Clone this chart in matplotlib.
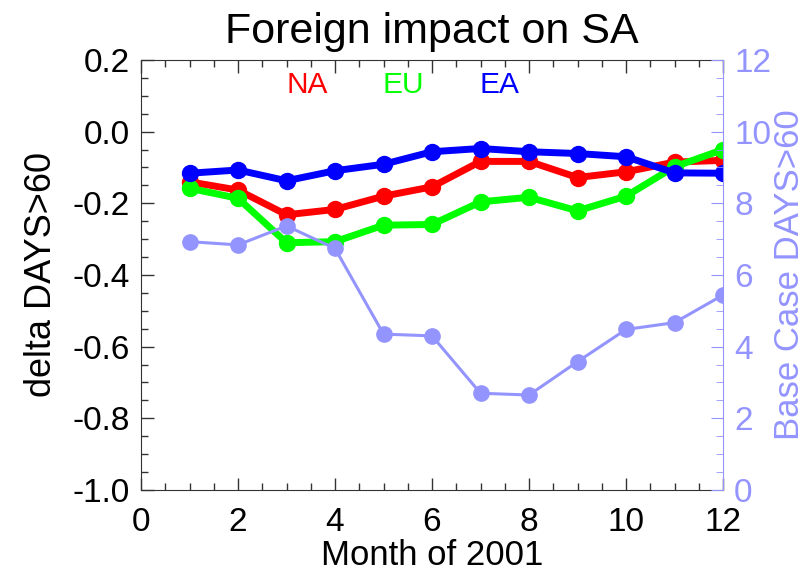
import matplotlib
matplotlib.use("Agg")
import matplotlib.pyplot as plt
from matplotlib.ticker import MultipleLocator, FormatStrFormatter

plt.rcParams['font.family'] = ['Liberation Sans', 'DejaVu Sans']

months = [1, 2, 3, 4, 5, 6, 7, 8, 9, 10, 11, 12]
na = [-0.140, -0.163, -0.232, -0.217, -0.180, -0.154, -0.083, -0.083, -0.128, -0.112, -0.085, -0.080]
eu = [-0.158, -0.186, -0.310, -0.307, -0.261, -0.259, -0.196, -0.183, -0.221, -0.180, -0.098, -0.050]
ea = [-0.116, -0.107, -0.137, -0.109, -0.091, -0.056, -0.047, -0.056, -0.061, -0.070, -0.115, -0.116]
base = [6.93, 6.84, 7.37, 6.74, 4.35, 4.30, 2.70, 2.65, 3.58, 4.48, 4.67, 5.44]

labels = ["NA", "EU", "EA"]
colors = ["#ff0000", "#00ff00", "#0000ff"]
base_color = "#9494ff"

fig = plt.figure(figsize=(8.11, 5.72), dpi=100)
ax = fig.add_axes([0.1739, 0.1434, 0.8915 - 0.1739, 0.8951 - 0.1434])

for vals, c in zip([na, eu, ea], colors):
    ax.plot(months, vals, color=c, lw=5, marker='o', ms=11.5, zorder=3)

ax.set_xlim(0, 12)
ax.set_ylim(-1.0, 0.2)
ax.xaxis.set_major_locator(MultipleLocator(2))
ax.xaxis.set_minor_locator(MultipleLocator(0.5))
ax.yaxis.set_major_locator(MultipleLocator(0.2))
ax.yaxis.set_minor_locator(MultipleLocator(0.05))
ax.yaxis.set_major_formatter(FormatStrFormatter('%.1f'))
ax.tick_params(axis='both', which='both', direction='in', top=True, right=False,
               labelsize=24, color='#333333')
ax.tick_params(which='major', length=9, width=1)
ax.tick_params(which='minor', length=5, width=1)
ax.tick_params(axis='x', pad=12)
ax.tick_params(axis='y', pad=8)
for s in ['left', 'bottom', 'top']:
    ax.spines[s].set_color('#333333')
ax.spines['right'].set_visible(False)

ax.set_xlabel("Month of 2001", fontsize=25, labelpad=1)
ax.set_ylabel("delta DAYS>60", fontsize=26, labelpad=10)
ax.set_title("Foreign impact on SA", fontsize=31, pad=12)

for lab, c, x in zip(labels, colors, [3.42, 5.4, 7.4]):
    ax.text(x, 0.13, lab, color=c, fontsize=21.5, ha='center', va='center')

ax2 = ax.twinx()
ax2.plot(months, base, color=base_color, lw=2.2, marker='o', ms=11,
         markerfacecolor=base_color, markeredgecolor=base_color, zorder=4)
ax2.set_ylim(0, 12)
ax2.yaxis.set_major_locator(MultipleLocator(2))
ax2.yaxis.set_minor_locator(MultipleLocator(0.5))
ax2.tick_params(axis='y', which='both', direction='in', colors=base_color,
                labelsize=24, pad=8)
ax2.tick_params(which='major', length=9)
ax2.tick_params(which='minor', length=5)
for s in ['left', 'bottom', 'top']:
    ax2.spines[s].set_visible(False)
ax2.spines['right'].set_color(base_color)
ax2.set_ylabel("Base Case DAYS>60", fontsize=25, color=base_color, labelpad=1)

fig.savefig("out.png", dpi=100)
